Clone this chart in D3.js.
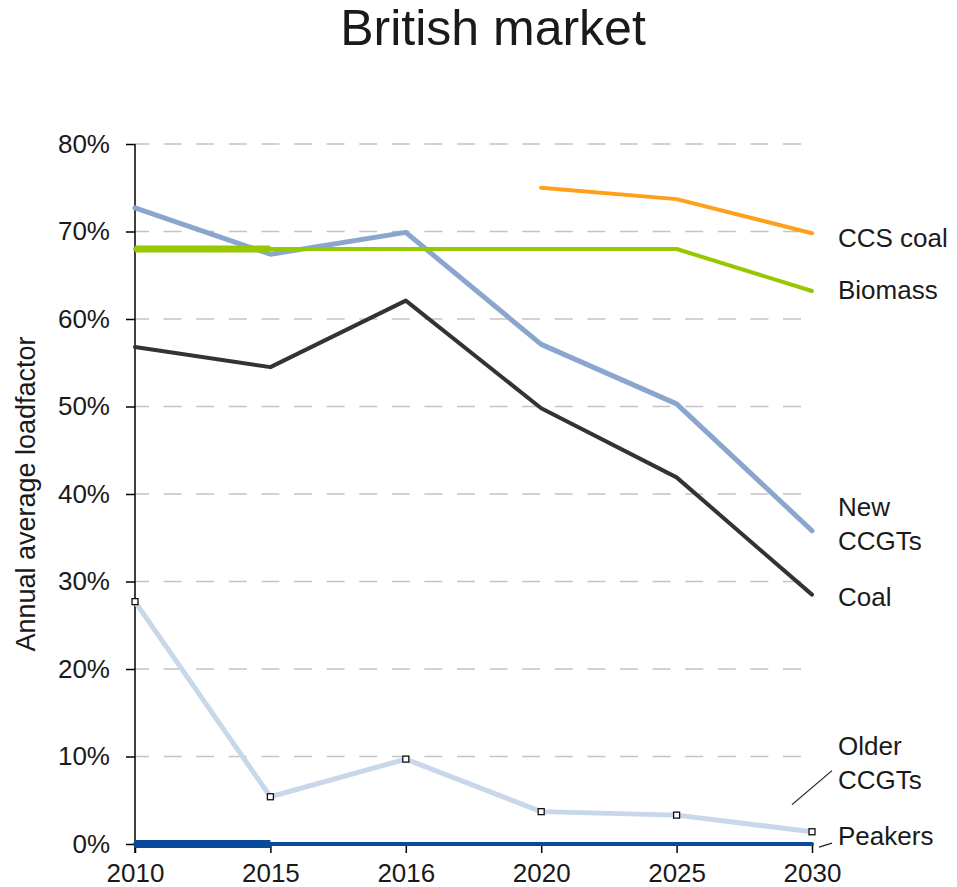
<!DOCTYPE html>
<html>
<head>
<meta charset="utf-8">
<script src="https://cdn.jsdelivr.net/npm/d3@7"></script>
<style>
  html, body { margin: 0; padding: 0; background: #fff; }
  svg { display: block; font-family: "Liberation Sans", Arial, sans-serif; }
</style>
</head>
<body>
<svg id="chart" width="957" height="887"></svg>
<script>
// Years on the x axis (evenly spaced categories)
const years = ["2010", "2015", "2016", "2020", "2025", "2030"];
const yTicks = [0, 10, 20, 30, 40, 50, 60, 70, 80];

// Annual average load factor (%) per technology
const ccsCoal    = [null, null, null, 75.0, 73.7, 69.8];
const biomass    = [68.0, 68.0, 68.0, 68.0, 68.0, 63.2];
const newCCGTs   = [72.7, 67.4, 69.9, 57.1, 50.3, 35.8];
const coal       = [56.8, 54.5, 62.1, 49.8, 41.9, 28.5];
const olderCCGTs = [27.7, 5.4, 9.7, 3.7, 3.3, 1.4];
const peakers    = [0, 0, 0, 0, 0, 0];

const series = [
  { name: ["Older", "CCGTs"], values: olderCCGTs, color: "#c9d7ea", width: 5, markers: true, labelAt: 9.3, leader: [8, 42] },
  { name: ["Coal"],           values: coal,       color: "#333333", width: 4, labelAt: 28.2 },
  { name: ["New", "CCGTs"],   values: newCCGTs,   color: "#8aa6cf", width: 5, labelAt: 36.6 },
  { name: ["Biomass"],        values: biomass,    color: "#96c800", width: 4, thickFirst: 7, labelAt: 63.3 },
  { name: ["CCS coal"],       values: ccsCoal,    color: "#ffa01c", width: 4, labelAt: 69.3 },
  { name: ["Peakers"],        values: peakers,    color: "#0a4a9c", width: 4, thickFirst: 8, labelAt: 0.9, leaderShort: [7, 11] }
];

const svg = d3.select("#chart");
const x = d3.scalePoint().domain(years).range([135, 812]);
const y = d3.scaleLinear().domain([0, 80]).range([844, 144]);
const textColor = "#1a1a1a";
const fontFamily = "Liberation Sans, Arial, sans-serif";

// Title
svg.append("text")
  .attr("x", 493).attr("y", 45)
  .attr("text-anchor", "middle")
  .attr("font-size", 50)
  .attr("fill", textColor)
  .text("British market");

// Dashed horizontal gridlines
svg.append("g").selectAll("line")
  .data(yTicks.filter(d => d > 0))
  .join("line")
  .attr("x1", x(years[0])).attr("x2", 805)
  .attr("y1", d => y(d)).attr("y2", d => y(d))
  .attr("stroke", "#c4c4c4")
  .attr("stroke-width", 1.6)
  .attr("stroke-dasharray", "18,14.6")
  .attr("stroke-dashoffset", 4);

// Y axis
const yAxis = svg.append("g")
  .attr("transform", `translate(${x(years[0])},0)`)
  .call(d3.axisLeft(y).tickValues(yTicks).tickFormat(d => d + "%").tickSize(9).tickPadding(16));
yAxis.select(".domain").attr("stroke", "#000").attr("stroke-width", 1.5)
  .attr("d", `M0,${y(80)}V${y(0) + 9}`);
yAxis.selectAll(".tick line").attr("stroke", "#000").attr("stroke-width", 1.5);
yAxis.selectAll(".tick text").attr("font-size", 26).attr("fill", textColor)
  .attr("font-family", fontFamily);

// X axis
const xAxis = svg.append("g")
  .attr("transform", `translate(0,${y(0)})`)
  .call(d3.axisBottom(x).tickSize(9).tickPadding(10.5));
xAxis.select(".domain").remove();
xAxis.selectAll(".tick line").attr("stroke", "#000").attr("stroke-width", 1.5);
xAxis.selectAll(".tick text").attr("font-size", 26).attr("fill", textColor)
  .attr("font-family", fontFamily);

// Y axis title
svg.append("text")
  .attr("transform", `translate(35,${(y(0) + y(80)) / 2}) rotate(-90)`)
  .attr("text-anchor", "middle")
  .attr("font-size", 27)
  .attr("fill", textColor)
  .text("Annual average loadfactor");

// Series lines
const line = d3.line()
  .defined(d => d.v !== null)
  .x(d => x(d.year))
  .y(d => y(d.v));

const plot = svg.append("g");
series.forEach(s => {
  const pts = years.map((yr, i) => ({ year: yr, v: s.values[i] }));
  plot.append("path")
    .datum(pts)
    .attr("d", line)
    .attr("fill", "none")
    .attr("stroke", s.color)
    .attr("stroke-width", s.width)
    .attr("stroke-linejoin", "round")
    .attr("stroke-linecap", "round");
  if (s.thickFirst) {
    plot.append("path")
      .datum(pts.slice(0, 2))
      .attr("d", line)
      .attr("fill", "none")
      .attr("stroke", s.color)
      .attr("stroke-width", s.thickFirst);
  }
  if (s.markers) {
    plot.append("g").selectAll("rect")
      .data(pts.filter(d => d.v !== null))
      .join("rect")
      .attr("x", d => x(d.year) - 3)
      .attr("y", d => y(d.v) - 3)
      .attr("width", 6).attr("height", 6)
      .attr("fill", "#fff")
      .attr("stroke", "#111")
      .attr("stroke-width", 1.3);
  }
});

// Series labels at the right end
const lx = x(years[years.length - 1]) + 26;
series.forEach(s => {
  const n = s.name.length;
  const cy = y(s.labelAt);
  const t = svg.append("text")
    .attr("x", lx)
    .attr("font-size", 26)
    .attr("fill", textColor);
  s.name.forEach((ln, i) => {
    t.append("tspan")
      .attr("x", lx)
      .attr("y", cy + (i - (n - 1) / 2) * 34 + 9)
      .text(ln);
  });
  if (s.leader) {
    svg.append("line")
      .attr("x1", lx - 6).attr("y1", cy + s.leader[0])
      .attr("x2", lx - 46).attr("y2", cy + s.leader[1])
      .attr("stroke", "#222").attr("stroke-width", 1.3);
  }
  if (s.leaderShort) {
    svg.append("line")
      .attr("x1", lx - 6).attr("y1", cy + s.leaderShort[0])
      .attr("x2", lx - 19).attr("y2", cy + s.leaderShort[1])
      .attr("stroke", "#222").attr("stroke-width", 1.3);
  }
});
</script>
</body>
</html>
